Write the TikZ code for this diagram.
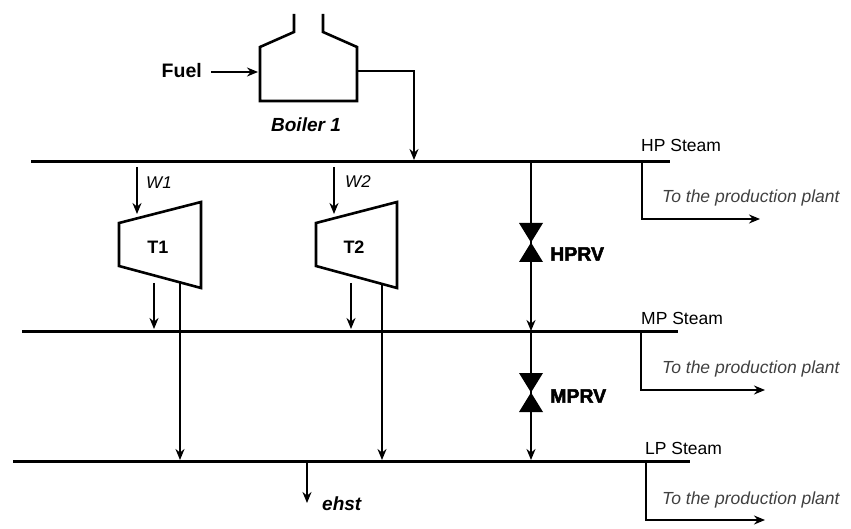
\documentclass[tikz,border=0pt]{standalone}
\usepackage{xcolor}
\usepackage{fontspec}
\setmainfont{Liberation Sans}
\newfontfamily\grossa[FakeBold=2.5]{Liberation Sans}
\usetikzlibrary{
  arrows.meta,
  positioning,
  calc
}

\begin{document}
\begin{tikzpicture}[
      x=1pt, y=-1pt,
      rotulo/.style={inner sep=0pt, font=\fontsize{17.5}{20}\selectfont},
      saida/.style={inner sep=0pt, font=\fontsize{17.5}{20}\selectfont\itshape, text=black!75},
      negrito/.style={inner sep=0pt, font=\fontsize{18}{20}\selectfont\bfseries},
      negritoit/.style={inner sep=0pt, font=\fontsize{19}{21}\selectfont\bfseries\itshape},
      vazao/.style={inner sep=0pt, font=\fontsize{17}{19}\selectfont\itshape},
      valvula/.style={inner sep=0pt, font=\grossa\fontsize{19.5}{21}\selectfont\bfseries},
      coletor/.style={line width=3.5pt, black},
      equip/.style={line width=2.6pt, black, line join=miter},
      seta/.style={-{Stealth[length=11pt, width=9pt]}, line width=1.8pt, black},
      tubo/.style={line width=1.8pt, black},
      valvulafill/.style={fill=black, draw=none}
  ]
    \useasboundingbox (0,0) rectangle (851,529);

    % Coletores de vapor
    \coordinate (hpl) at (31,161.5);
    \coordinate (hpr) at (670,161.5);
    \coordinate (mpl) at (22,331.5);
    \coordinate (mpr) at (678,331.5);
    \coordinate (lpl) at (13,461.5);
    \coordinate (lpr) at (690,461.5);
    \draw [coletor] (hpl) -- (hpr);
    \draw [coletor] (mpl) -- (mpr);
    \draw [coletor] (lpl) -- (lpr);
    \node [rotulo, anchor=west] (hplab) at (641,145) {HP Steam};
    \node [rotulo, anchor=west] (mplab) at (641,318) {MP Steam};
    \node [rotulo, anchor=west] (lplab) at (645,448) {LP Steam};

    % Caldeira
    \draw [equip] (294,14) -- (294,32) -- (260,47) -- (260,101) -- (357,101) -- (357,47) -- (323,32) -- (323,14);
    \node [negrito, font=\fontsize{19.5}{21}\selectfont\bfseries, anchor=east] (fuel) at (202,71) {Fuel};
    \node [negritoit] (boiler) at (306,125) {Boiler 1};
    \coordinate (fuelin) at (211,72);
    \coordinate (boilw) at (258,72);
    \coordinate (boile) at (357,71);
    \coordinate (boilhp) at (414,160);
    \draw [seta] (fuelin) -- (boilw);
    \draw [seta] (boile) -| (boilhp);

    % Turbinas
    \draw [equip] (119,223) -- (201,202) -- (201,288) -- (119,266) -- cycle;
    \draw [equip] (316,223) -- (397,202) -- (397,288) -- (316,266) -- cycle;
    \node [negrito] (t1) at (158,247) {T1};
    \node [negrito] (t2) at (354,247) {T2};
    \coordinate (w1a) at (137,167);
    \coordinate (w1b) at (137,214);
    \coordinate (w2a) at (334,167);
    \coordinate (w2b) at (334,214);
    \draw [seta] (w1a) -- (w1b);
    \draw [seta] (w2a) -- (w2b);
    \node [vazao, anchor=west] (w1) at (146,183) {W1};
    \node [vazao, anchor=west] (w2) at (345,182) {W2};
    \coordinate (t1mp) at (154,283);
    \coordinate (t1mpb) at (154,329);
    \coordinate (t2mp) at (351,283);
    \coordinate (t2mpb) at (351,329);
    \coordinate (t1lp) at (180,282);
    \coordinate (t1lpb) at (180,460);
    \coordinate (t2lp) at (382,284);
    \coordinate (t2lpb) at (382,460);
    \draw [seta] (t1mp) -- (t1mpb);
    \draw [seta] (t2mp) -- (t2mpb);
    \draw [seta] (t1lp) -- (t1lpb);
    \draw [seta] (t2lp) -- (t2lpb);

    % Valvulas
    \coordinate (hpv) at (531,161);
    \coordinate (hprvc) at (531,242);
    \coordinate (mpv) at (531,331);
    \coordinate (mprvc) at (531,392);
    \coordinate (lpv) at (531,460);
    \fill [valvulafill] (519,223) -- (543,223) -- (519,262) -- (543,262) -- cycle;
    \fill [valvulafill] (519,373) -- (543,373) -- (519,412) -- (543,412) -- cycle;
    \draw [tubo] (hpv) -- (hprvc);
    \draw [seta] (hprvc) -- (mpv);
    \draw [tubo] (mpv) -- (mprvc);
    \draw [seta] (mprvc) -- (lpv);
    \node [valvula, anchor=west] (hprv) at (550,254) {HPRV};
    \node [valvula, anchor=west] (mprv) at (550,396) {MPRV};

    % Saidas para a planta
    \coordinate (hps) at (642,161);
    \coordinate (hpt) at (760,219);
    \coordinate (mps) at (641,331);
    \coordinate (mpt) at (765,390);
    \coordinate (lps) at (646,461);
    \coordinate (lpt) at (765,520);
    \draw [seta] (hps) |- (hpt);
    \draw [seta] (mps) |- (mpt);
    \draw [seta] (lps) |- (lpt);
    \node [saida, anchor=west] (hpprod) at (662,198) {To the production plant};
    \node [saida, anchor=west] (mpprod) at (662,369) {To the production plant};
    \node [saida, anchor=west] (lpprod) at (662,500) {To the production plant};

    % Exaustao
    \coordinate (ehsta) at (307,461);
    \coordinate (ehstb) at (307,503);
    \draw [seta] (ehsta) -- (ehstb);
    \node [negritoit, anchor=west] (ehst) at (322,504) {ehst};
\end{tikzpicture}
\end{document}
